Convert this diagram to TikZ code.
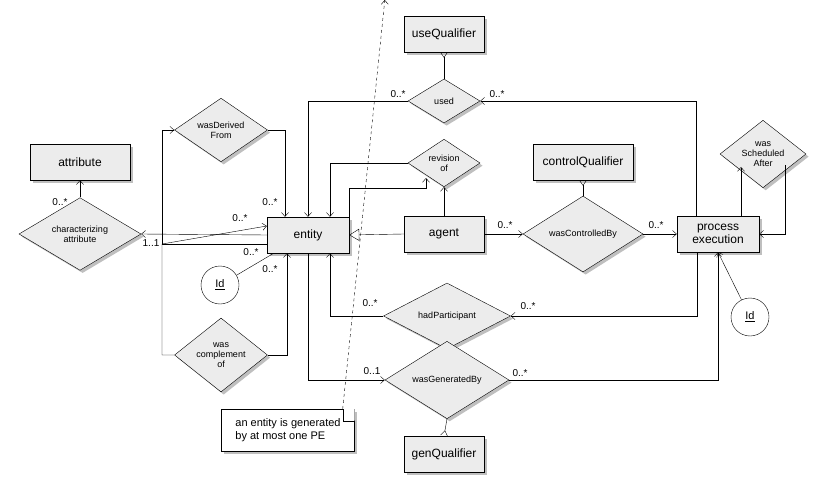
\documentclass[tikz,border=0pt]{standalone}
\usepackage{fontspec}
\setmainfont{Liberation Sans}
\usetikzlibrary{shapes.geometric,shadows,arrows.meta}
\begin{document}
\begin{tikzpicture}[x=1pt,y=-1pt,
	ent/.style={draw,fill=gray!15,drop shadow,minimum width=80pt,minimum height=36pt,inner sep=0pt,font=\fontsize{12}{13}\selectfont,align=center},
	rel/.style={diamond,draw,fill=gray!15,drop shadow,inner sep=0pt,font=\fontsize{9}{10}\selectfont,align=center},
	att/.style={circle,draw,fill=white,minimum size=38pt,inner sep=0pt,font=\fontsize{11}{12}\selectfont},
	card/.style={font=\fontsize{10}{11}\selectfont,inner sep=1pt},
	to/.style={-{Straight Barb[length=4pt,width=7pt]}},
	crow/.style={-{Straight Barb[reversed,length=5pt,width=7pt]}},
	isa/.style={-{Triangle[open,length=10pt,width=12pt]}}]
	\useasboundingbox (0,0) rectangle (826,494);
	% entities
	\node[ent,minimum width=100pt] (attribute) at (80,162) {attribute};
	\node[ent,minimum width=82pt] (entity) at (308,235) {entity};
	\node[ent] (agent) at (444,234) {agent};
	\node[ent] (useQ) at (444,34) {useQualifier};
	\node[ent,minimum width=100pt] (controlQ) at (583,162) {controlQualifier};
	\node[ent,minimum width=82pt] (pe) at (718,234) {process\\execution};
	\node[ent] (genQ) at (444,454) {genQualifier};
	% relationships
	\node[rel,minimum width=122pt,minimum height=44pt] (charAttr) at (80,234) {characterizing\\attribute};
	\node[rel,minimum width=93pt,minimum height=38pt] (derived) at (221,130) {wasDerived\\From};
	\node[rel,minimum width=93pt,minimum height=44pt] (complement) at (221,355) {was\\complement\\of};
	\node[rel,minimum width=72pt,minimum height=44pt] (used) at (444,101) {used};
	\node[rel,minimum width=72pt,minimum height=40pt] (revision) at (444,163) {revision\\of};
	\node[rel,minimum width=120pt,minimum height=44pt] (controlled) at (583,234) {wasControlledBy};
	\node[rel,minimum width=86pt,minimum height=44pt] (scheduled) at (763,154) {was\\Scheduled\\After};
	\node[rel,minimum width=127pt,minimum height=44pt] (participant) at (447,316) {hadParticipant};
	\node[rel,minimum width=124pt,minimum height=44pt] (generated) at (447,380) {wasGeneratedBy};
	% attributes
	\node[att] (idEnt) at (220,285) {\underline{Id}};
	\node[att] (idPe) at (750,317) {\underline{Id}};
	% note
	\node[draw,fill=white,drop shadow,minimum width=133pt,minimum height=42pt,inner sep=2pt,align=left,font=\fontsize{11}{13}\selectfont] (note) at (288,430) {an entity is generated\\by at most one PE};
	\fill[white] (note.north east) -- ++(-12,0) -- ++(12,12) -- cycle;
	\draw (note.north east) ++(-12,0) -- ++(0,12) -- ++(12,0);
	\draw[dashed,to] ([xshift=-12pt]note.north east) -- (generated.west |- 0,0) ++(0,0);
	% connectors
	\draw[crow] (used.north) -- (useQ.south);
	\draw[to] (used.west) -| (entity.north);
	\draw[to] ([xshift=-22pt]pe.north) |- (used.east);
	\draw[to] (revision.west) -| ([xshift=22pt]entity.north);
	\draw[to] (entity.north east) |- (426,188) -- (426,178);
	\draw[to] (agent.north) -- (revision.south);
	\draw[isa] (agent.west) -- (entity.east);
	\draw[to] (agent.east) -- (controlled.west);
	\draw[to] (controlled.east) -- (pe.west);
	\draw[crow] (controlled.north) -- (controlQ.south);
	\draw[to] ([xshift=23pt]pe.north) -- (741,167);
	\draw[to] (785,165) |- (pe.east);
	\draw[to] (entity.west) -- (charAttr.east);
	\draw[to] (charAttr.north) -- (attribute.south);
	\draw[to] ([yshift=-9pt]entity.west) -| (162,130) -- (derived.west);
	\draw[to] (derived.east) -| ([xshift=-23pt]entity.north);
	\draw[to] (complement.west) -| (162,244) -- ([yshift=9pt]entity.west);
	\draw[to] (complement.east) -| ([xshift=-21pt]entity.south);
	\draw (idEnt) -- ([xshift=7pt]entity.south west);
	\draw[to] ([xshift=-21pt]pe.south) |- (participant.east);
	\draw[to] (participant.west) -| ([xshift=22pt]entity.south);
	\draw[to] (entity.south) |- (generated.west);
	\draw[to] (generated.east) -| (pe.south);
	\draw[to] (idPe) -- (pe.south);
	\draw[crow] (generated.south) -- (genQ.north);
	% cardinalities
	\node[card] at (398,94) {0..*};
	\node[card] at (497,94) {0..*};
	\node[card] at (240,218) {0..*};
	\node[card] at (270,202) {0..*};
	\node[card] at (60,202) {0..*};
	\node[card] at (151,243) {1..1};
	\node[card] at (251,252) {0..*};
	\node[card] at (270,269) {0..*};
	\node[card] at (505,225) {0..*};
	\node[card] at (656,225) {0..*};
	\node[card] at (370,303) {0..*};
	\node[card] at (528,306) {0..*};
	\node[card] at (372,371) {0..1};
	\node[card] at (520,373) {0..*};
\end{tikzpicture}
\end{document}
